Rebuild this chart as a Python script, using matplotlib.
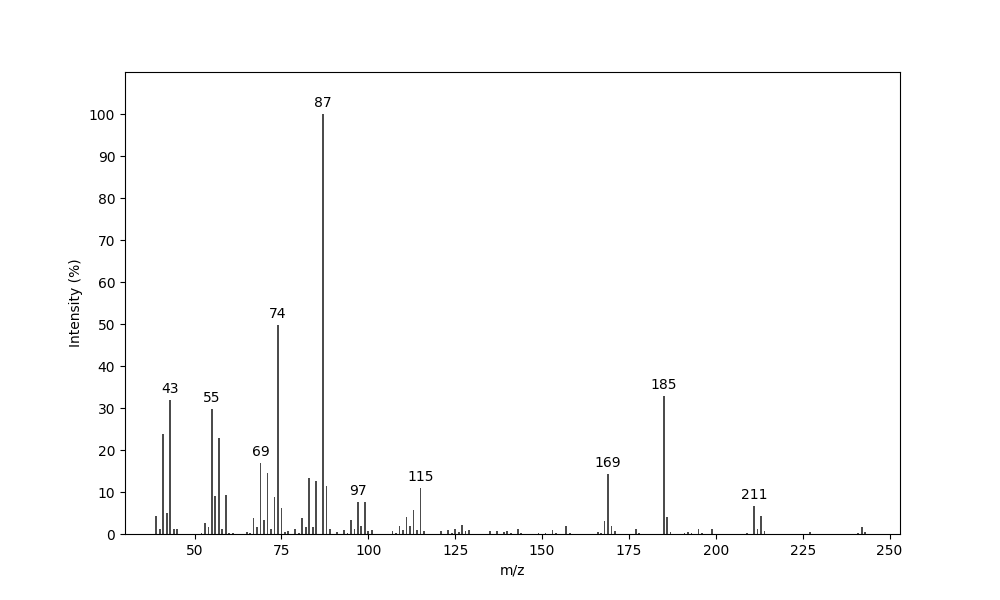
import matplotlib
matplotlib.use("Agg")
import matplotlib.pyplot as plt

# m/z values and relative intensities (%)
mz = [39, 40, 41, 42, 43, 44, 45,
      52, 53, 54, 55, 56, 57, 58, 59, 60, 61,
      65, 66, 67, 68, 69, 70, 71, 72, 73, 74, 75, 76, 77,
      79, 80, 81, 82, 83, 84, 85, 87, 88, 89,
      91, 93, 94, 95, 96, 97, 98, 99, 100, 101,
      107, 108, 109, 110, 111, 112, 113, 114, 115, 116,
      121, 123, 124, 125, 126, 127, 128, 129,
      135, 137, 139, 140, 141, 143, 144,
      149, 151, 153, 154, 157, 158,
      166, 167, 168, 169, 170, 171, 177, 178,
      185, 186, 187, 191, 192, 193, 195, 196, 199,
      209, 211, 212, 213, 214,
      227, 241, 242, 243]
intensity = [4.4, 1.2, 23.8, 5.0, 31.9, 1.2, 1.2,
             0.3, 2.7, 1.7, 29.8, 9.1, 22.9, 1.2, 9.3, 0.3, 0.3,
             0.5, 0.3, 3.8, 1.7, 16.9, 3.3, 14.6, 1.2, 8.8, 49.8, 6.2, 0.5, 0.7,
             1.2, 0.2, 3.8, 1.7, 13.3, 1.7, 12.6, 100.0, 11.4, 1.2,
             0.5, 1.0, 0.2, 3.3, 1.2, 7.6, 1.9, 7.6, 0.7, 1.0,
             0.7, 0.2, 1.9, 1.0, 4.0, 1.9, 5.7, 1.0, 11.0, 0.7,
             0.7, 1.0, 0.2, 1.2, 0.5, 2.1, 0.7, 1.0,
             0.7, 0.7, 0.5, 0.7, 0.2, 1.2, 0.2,
             0.2, 0.2, 1.0, 0.2, 1.9, 0.2,
             0.5, 0.2, 3.1, 14.3, 1.9, 0.7, 1.2, 0.2,
             32.8, 4.0, 0.5, 0.2, 0.5, 0.2, 1.2, 0.2, 1.2,
             0.2, 6.7, 1.2, 4.3, 0.7,
             0.5, 0.2, 1.7, 0.5]
labelled = [43, 55, 69, 74, 87, 97, 115, 169, 185, 211]

fig, ax = plt.subplots(figsize=(10, 6), dpi=100)
ax.bar(mz, intensity, width=0.5, color="black", alpha=0.7)

for m, v in zip(mz, intensity):
    if m in labelled:
        ax.text(m, v + 1, str(m), ha="center", va="bottom", fontsize=10)

ax.set_xlim(30, 253)
ax.set_ylim(0, 110)
ax.set_yticks(range(0, 101, 10))
ax.set_xlabel("m/z")
ax.set_ylabel("Intensity (%)")

fig.savefig("out.png")
